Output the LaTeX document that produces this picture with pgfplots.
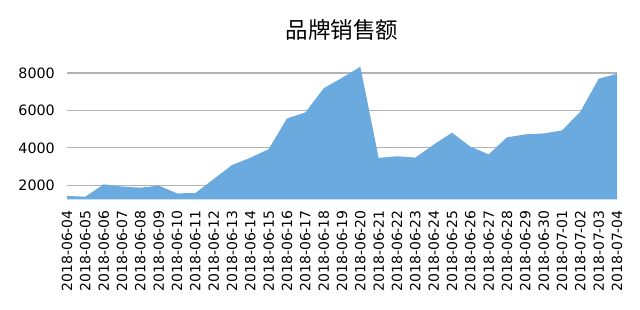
\documentclass[border=0pt]{standalone}
\usepackage{pgfplots}
\pgfplotsset{compat=1.18}
\usepackage{fontspec}
\setmainfont{DejaVu Sans}
\newfontfamily\cjk{Noto Sans CJK SC}
\definecolor{areablue}{RGB}{106,170,222}
\definecolor{gridgray}{RGB}{178,178,178}
\begin{document}
\begin{tikzpicture}
\useasboundingbox (-67pt,-109.7pt) rectangle (573pt,199.3pt);
\begin{axis}[
  at={(0,0)}, anchor=south west,
  scale only axis,
  width=550pt, height=135.7pt,
  xmin=0, xmax=30, ymin=1250, ymax=8500,
  axis line style={draw=none},
  major tick length=0pt,
  ytick={2000,4000,6000,8000},
  ymajorgrids,
  grid style={gridgray, line width=1.2pt},
  xtick={0,...,30},
  xticklabels={2018-06-04,2018-06-05,2018-06-06,2018-06-07,2018-06-08,2018-06-09,2018-06-10,2018-06-11,2018-06-12,2018-06-13,2018-06-14,2018-06-15,2018-06-16,2018-06-17,2018-06-18,2018-06-19,2018-06-20,2018-06-21,2018-06-22,2018-06-23,2018-06-24,2018-06-25,2018-06-26,2018-06-27,2018-06-28,2018-06-29,2018-06-30,2018-07-01,2018-07-02,2018-07-03,2018-07-04},
  x tick label style={rotate=90, anchor=east, font=\fontsize{14}{16}\selectfont, inner sep=0pt, xshift=-10.7pt},
  y tick label style={font=\fontsize{14.3}{16}\selectfont, anchor=east, inner sep=0pt, xshift=-12pt},
  /pgf/number format/assume math mode=true,
  /pgf/number format/1000 sep={},
  scaled y ticks=false,
  title={\cjk 品牌销售额},
  title style={at={(0.5,1)}, anchor=center, yshift=27.6pt, font=\fontsize{22.5}{26}\selectfont},
]
\addplot[fill=areablue, draw=none] coordinates {
(0,1430) (1,1390) (2,2050) (3,1930) (4,1870) (5,1980) (6,1570) (7,1580)
(8,2330) (9,3080) (10,3470) (11,3930) (12,5570) (13,5890) (14,7180)
(15,7740) (16,8330) (17,3460) (18,3550) (19,3480) (20,4170) (21,4810)
(22,4060) (23,3650) (24,4560) (25,4720) (26,4770) (27,4930) (28,5930)
(29,7690) (30,7960)
} \closedcycle;
\end{axis}
\end{tikzpicture}
\end{document}
